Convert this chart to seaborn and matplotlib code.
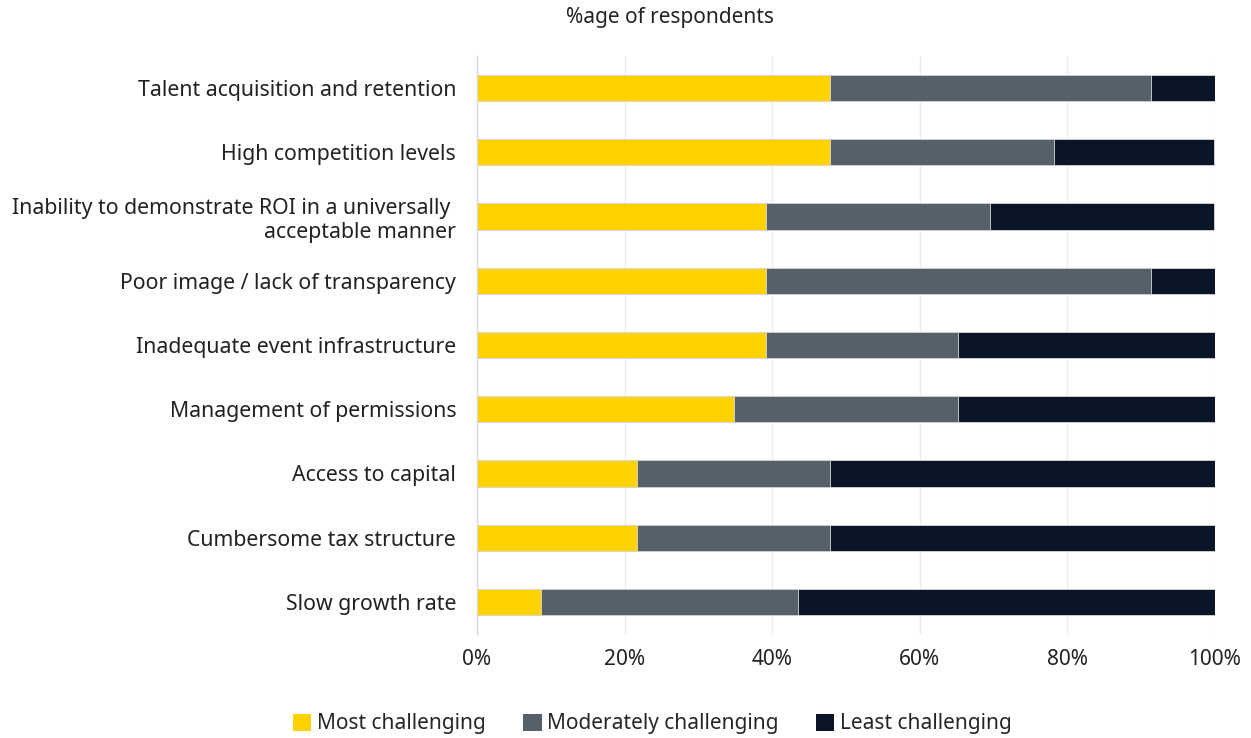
import matplotlib
matplotlib.use("Agg")
import matplotlib.pyplot as plt
import seaborn as sns
import pandas as pd
import numpy as np
from matplotlib.patches import Patch

categories = [
    "Talent acquisition and retention",
    "High competition levels",
    "Inability to demonstrate ROI in a universally \nacceptable manner",
    "Poor image / lack of transparency",
    "Inadequate event infrastructure",
    "Management of permissions",
    "Access to capital",
    "Cumbersome tax structure",
    "Slow growth rate",
]
most = [47.8, 47.8, 39.1, 39.1, 39.1, 34.8, 21.7, 21.7, 8.7]
moderate = [43.5, 30.4, 30.4, 52.2, 26.1, 30.4, 26.1, 26.1, 34.8]
least = [8.7, 21.7, 30.4, 8.7, 34.8, 34.8, 52.2, 52.2, 56.5]
series_names = ["Most challenging", "Moderately challenging", "Least challenging"]
colors = ["#FFD200", "#56606B", "#0A1628"]
xticks = [0, 20, 40, 60, 80, 100]

sns.set_theme(style="white")
plt.rcParams["font.family"] = ["Noto Sans", "DejaVu Sans"]

df = pd.DataFrame({"cat": categories, "most": most, "moderate": moderate, "least": least})
df["c1"] = df["most"]
df["c2"] = df["most"] + df["moderate"]
df["c3"] = df["c2"] + df["least"]

fig = plt.figure(figsize=(12.51, 7.38), dpi=100)
ax = fig.add_axes([477 / 1251, 1 - 634 / 738, (1215 - 477) / 1251, (634 - 56) / 738])

for col, color in zip(["c3", "c2", "c1"], colors[::-1]):
    sns.barplot(data=df, x=col, y="cat", color=color, width=0.41, ax=ax,
                edgecolor="#D5D8DC", linewidth=0.6, saturation=1, orient="h")

ax.set_xlim(0, 100)
ax.set_xticks(xticks)
ax.set_xticklabels([f"{t}%" for t in xticks], fontsize=15, color="#222222")
ax.tick_params(axis="y", labelsize=15.3, labelcolor="#222222", length=0, pad=15)
ax.tick_params(axis="x", length=0, pad=11)
ax.set_xlabel("")
ax.set_ylabel("")
for lbl in ax.get_yticklabels():
    lbl.set_horizontalalignment("right")
    lbl.set_multialignment("right")
ax.grid(axis="x", color="#EBEBEB", linewidth=1)
ax.set_axisbelow(True)
for s in ["top", "right", "bottom"]:
    ax.spines[s].set_visible(False)
ax.spines["left"].set_color("#D9D9D9")
ax.spines["left"].set_linewidth(1)

fig.text(670 / 1251, 1 - 18 / 738, "%age of respondents", ha="center", va="center",
         fontsize=15, color="#222222")

handles = [Patch(facecolor=c, edgecolor="none") for c in colors]
fig.legend(handles, series_names, loc="center", bbox_to_anchor=(652 / 1251, 1 - 724 / 738),
           ncol=3, frameon=False, fontsize=15, handlelength=0.9, handleheight=0.9,
           handletextpad=0.25, columnspacing=1.8)

fig.savefig("out.png", dpi=100)
